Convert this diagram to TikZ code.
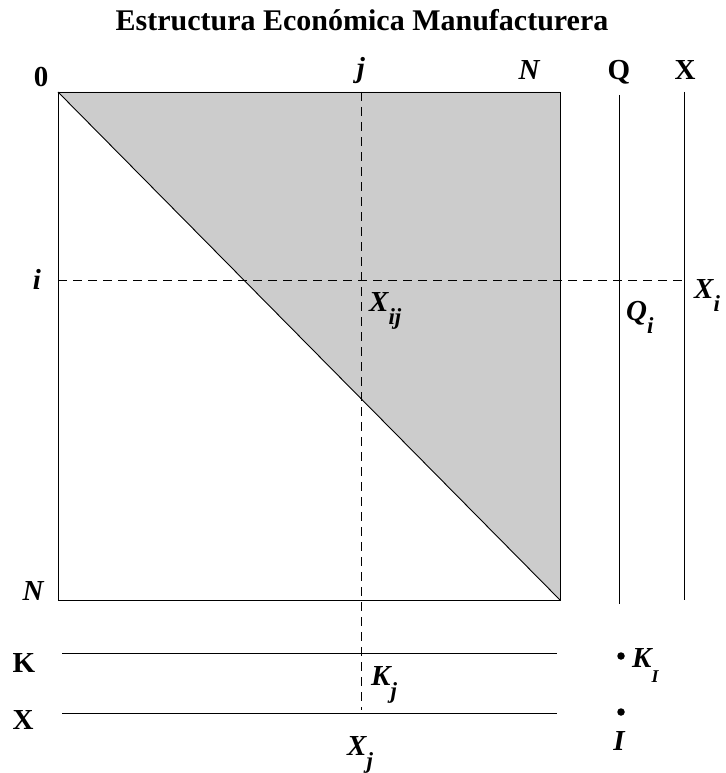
\documentclass[tikz,border=0pt]{standalone}
\usepackage{fontspec}
\setmainfont{Liberation Serif}
\usetikzlibrary{positioning,calc}

\newcommand{\lowsub}[1]{\raisebox{-0.45em}{\fontsize{23}{23}\selectfont #1}}

\begin{document}
\begin{tikzpicture}[x=1pt,y=-1pt,
    lbl/.style={font=\fontsize{29}{29}\selectfont\bfseries\itshape, inner sep=0pt},
    hdr/.style={font=\fontsize{29}{29}\selectfont\bfseries, inner sep=0pt},
    guide/.style={dash pattern=on 9pt off 6pt, line width=0.8pt},
    rule/.style={line width=0.9pt},
    dot/.style={circle, fill=black, inner sep=0pt, minimum size=7.5pt}]
\useasboundingbox (0,0) rectangle (725,773);

% corners of the matrix
\coordinate (tl) at (58,92);
\coordinate (tr) at (560,92);
\coordinate (br) at (560,600);
\coordinate (bl) at (58,600);

% shaded upper triangle
\fill[gray!40] (tl) -- (tr) -- (br) -- cycle;
\draw[rule] (tl) rectangle (br);
\draw[rule] (tl) -- (br);

% title and headers
\node[font=\fontsize{30}{30}\selectfont\bfseries, inner sep=0pt, anchor=base] (title) at (362,31) {Estructura Económica Manufacturera};
\node[hdr, anchor=base] (zero) at (41,87) {0};
\node[lbl, anchor=base] (jtop) at (361,78) {j};
\node[lbl, anchor=base] (ntop) at (529,80) {N};
\node[hdr, anchor=base] (qtop) at (619,80) {Q};
\node[hdr, anchor=base] (xtop) at (685,80) {X};
\node[lbl, anchor=base] (irow) at (37,289) {i};
\node[lbl, anchor=base] (nrow) at (33,600) {N};

% Q and X columns
\coordinate (qa) at (619,95);
\coordinate (qb) at (619,604);
\coordinate (xa) at (684,92);
\coordinate (xb) at (684,600);
\draw[rule] (qa) -- (qb);
\draw[rule] (xa) -- (xb);

% K and X rows
\node[hdr, anchor=base] (krow) at (24,672) {K};
\node[hdr, anchor=base] (xrow) at (23,729) {X};
\coordinate (ka) at (62,653);
\coordinate (kb) at (557,653);
\coordinate (xra) at (62,713);
\coordinate (xrb) at (557,713);
\draw[rule] (ka) -- (kb);
\draw[rule] (xra) -- (xrb);

% dashed guides
\coordinate (ja) at (361,92);
\coordinate (jb) at (361,710);
\coordinate (ia) at (58,280);
\coordinate (ib) at (682,280);
\draw[guide] (ja) -- (jb);
\draw[guide] (ia) -- (ib);

% cell labels
\node[lbl, anchor=base west] (xij) at (369,311) {X\lowsub{ij}};
\node[lbl, anchor=base west] (xi) at (694,298) {X\lowsub{i}};
\node[lbl, anchor=base west] (qi) at (626,320) {Q\lowsub{i}};
\node[lbl, anchor=base west] (kj) at (371,685) {K\lowsub{j}};
\node[lbl, anchor=base west] (xj) at (347,755) {X\lowsub{j}};

% industry point
\node[dot] (kdot) at (621,656) {};
\node[dot] (xdot) at (621,712) {};
\node[lbl, anchor=base west] (ki) at (632,667) {K\raisebox{-0.55em}{\fontsize{18}{18}\selectfont I}};
\node[lbl, anchor=base] (iund) at (619,750) {I};
\end{tikzpicture}
\end{document}
